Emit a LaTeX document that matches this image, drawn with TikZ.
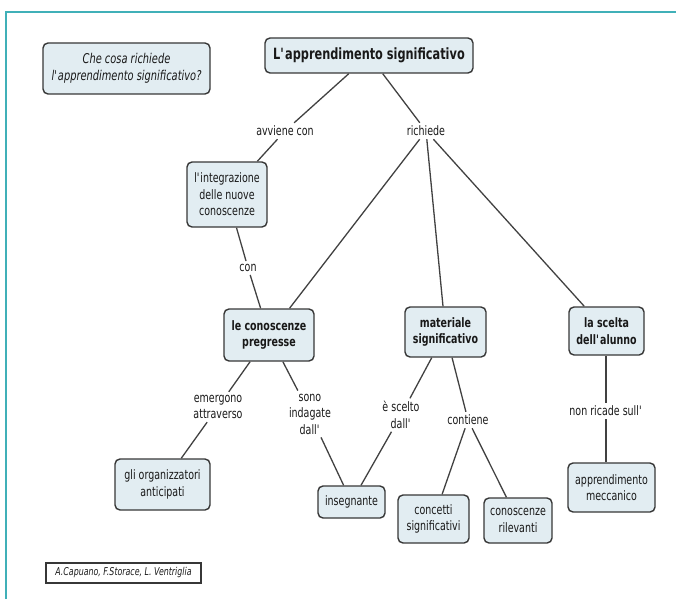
\documentclass[tikz,border=0pt]{standalone}
\usepackage{fontspec}
\setmainfont{DejaVu Sans}[FakeStretch=0.73]
\newcommand{\ap}{\textquotesingle}
\definecolor{boxfill}{RGB}{226,237,242}
\definecolor{boxdraw}{RGB}{55,55,55}
\definecolor{linec}{RGB}{65,65,65}
\definecolor{txt}{RGB}{25,25,25}
\definecolor{frame}{RGB}{64,176,184}
\tikzset{
  concept/.style={draw=boxdraw, line width=1.4pt, rounded corners=5pt, fill=boxfill,
    align=center, inner sep=2pt, text=txt, font=\fontsize{13}{16.5}\selectfont},
  keyconcept/.style={concept, font=\bfseries\fontsize{13}{16.5}\selectfont},
  linkphrase/.style={align=center, inner sep=3pt, text=txt, font=\fontsize{13}{16.5}\selectfont},
  conn/.style={draw=linec, line width=1.3pt},
}
\begin{document}
\begin{tikzpicture}[x=1pt,y=-1pt]
\useasboundingbox (0,0) rectangle (676,599);
% frame
\draw[frame, line width=2pt] (6,599) -- (6,12) -- (676,12);

% concepts
\node[concept, minimum width=167pt, minimum height=51pt, font=\itshape\fontsize{13.5}{16.5}\selectfont] (q) at (126.5,68.5) {Che cosa richiede\\l\ap apprendimento significativo?};
\node[keyconcept, minimum width=208pt, minimum height=35pt, font=\bfseries\fontsize{15.5}{18}\selectfont] (title) at (369,55.5) {L\ap apprendimento significativo};
\node[concept, minimum width=80pt, minimum height=65pt] (integ) at (227,194.5) {l\ap integrazione\\delle nuove\\conoscenze};
\node[keyconcept, minimum width=90pt, minimum height=52pt] (lcp) at (269,335) {le conoscenze\\pregresse};
\node[keyconcept, minimum width=81pt, minimum height=50pt] (mat) at (445.5,332) {materiale\\significativo};
\node[keyconcept, minimum width=75pt, minimum height=48pt] (scelta) at (606.5,331) {la scelta\\dell\ap alunno};
\node[concept, minimum width=95pt, minimum height=51pt] (org) at (162.5,484.5) {gli organizzatori\\anticipati};
\node[concept, minimum width=67pt, minimum height=32pt] (ins) at (351.5,502) {insegnante};
\node[concept, minimum width=71pt, minimum height=48pt] (conc) at (433.5,519) {concetti\\significativi};
\node[concept, minimum width=68pt, minimum height=45pt] (ril) at (518,520.5) {conoscenze\\rilevanti};
\node[concept, minimum width=87pt, minimum height=49pt] (mecc) at (611.5,487.5) {apprendimento\\meccanico};

% author box
\node[draw=boxdraw, line width=1.2pt, minimum width=155pt, minimum height=20pt, inner sep=1pt, text=txt, font=\itshape\fontsize{10.8}{12}\selectfont] (author) at (123.5,573) {A.Capuano, F.Storace, L. Ventriglia};

% linking phrases
\node[linkphrase] (avv) at (285,131) {avviene con};
\node[linkphrase] (ric) at (426,131) {richiede};
\node[linkphrase] (con) at (248,268) {con};
\node[linkphrase] (emer) at (218,407) {emergono\\attraverso};
\node[linkphrase] (sono) at (310,414) {sono\\indagate\\dall\ap};
\node[linkphrase] (scelto) at (401,415) {è scelto\\dall\ap};
\node[linkphrase] (cont) at (468,420) {contiene};
\node[linkphrase] (nonr) at (606,411) {non ricade sull\ap};

% connectors
\draw[conn] (title) -- (avv);
\draw[conn] (avv) -- (integ);
\draw[conn] (title) -- (ric);
\draw[conn] (ric) -- (lcp);
\draw[conn] (ric) -- (mat);
\draw[conn] (ric) -- (scelta);
\draw[conn] (integ) -- (con);
\draw[conn] (con) -- (lcp);
\draw[conn] (lcp) -- (emer);
\draw[conn] (emer) -- (org);
\draw[conn] (lcp) -- (sono);
\draw[conn] (sono) -- (ins);
\draw[conn] (mat) -- (scelto);
\draw[conn] (scelto) -- (ins);
\draw[conn] (mat) -- (cont);
\draw[conn] (cont) -- (conc);
\draw[conn] (cont) -- (ril);
\draw[conn] (scelta.south -| nonr) -- (nonr);
\draw[conn] (nonr) -- (nonr |- mecc.north);
\end{tikzpicture}
\end{document}
